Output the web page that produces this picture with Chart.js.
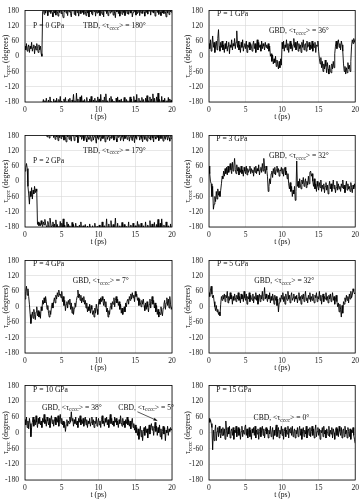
<!DOCTYPE html>
<html>
<head>
<meta charset="utf-8">
<script src="https://cdn.jsdelivr.net/npm/chart.js@4.4.1/dist/chart.umd.min.js"></script>
<style>
  body { margin: 0; background: #fff; width: 362px; height: 500px; position: relative; overflow: hidden; }
  canvas { position: absolute; }
</style>
</head>
<body>
<script>
// sampling step of the trajectories (ps)
var step = 0.1;

// torsion angle tau_cccc (degrees), one value every 0.1 ps from 0 to 20 ps
var p0 = [
  40, 25, 50, 20, 35, 45, 15, 40, 30, 55, 20, 35, 45, 10, 40, 25, 50, 30, 15, 45,
  25, 40, 10, 0, 175, -170, 165, -175, 170, -165, 178, 160, -172, 175, -160, 168, -178, 172, 155, -168,
  170, -175, 162, -165, 177, 158, -170, 172, -158, 168, -176, 165, 152, -168, 175, -162, 170, -178, 160, -170,
  175, -165, 168, 155, -172, 178, -150, 165, -175, 160, -145, 172, -168, 158, 176, -160, 168, -155, 172, -175,
  165, -170, 178, 160, -162, 170, -178, 155, -168, 175, -158, 168, 162, -172, 176, -165, 158, -175, 170, -160,
  172, -168, 160, -150, 175, 165, -172, 155, -160, 178, -148, 168, -175, 160, 172, -165, 170, -158, 175, -170,
  162, -176, 170, 152, -165, 175, -160, 168, -172, 158, 176, -168, 165, -178, 172, -162, 160, 175, -170, 168,
  -175, 165, 178, -160, 170, -168, 155, 172, -158, 176, -172, 162, -150, 168, 175, -165, 160, -175, 170, -162,
  168, -170, 175, 158, -165, 172, -155, 166, -175, 178, -160, 162, -168, 174, -148, 170, -165, 158, 176, -160,
  172, -145, 165, -170, 175, 160, -158, 170, -172, 168, -165, 176, 155, -175, 170, -162, 164, -168, 175, -172,
  170
];
var p1 = [
  50, 30, 65, 20, 45, 80, 35, 55, 15, 40, 60, 25, 70, 105, 40, 20, 55, 35, 60, 25,
  45, 15, 50, 30, 60, 20, 40, 55, 10, 45, 35, 65, 25, 50, 40, 70, 30, 55, 100, 35,
  60, 25, 45, 15, 55, 35, 65, 20, 40, 50, 30, 60, 15, 45, 35, 55, 25, 50, 40, 20,
  45, 60, 30, 50, 15, 40, 65, 25, 55, 35, 45, 20, 60, 30, 50, 40, 25, 55, 35, 45,
  30, 50, 20, 40, 0, 10, -20, 5, -30, -10, -25, 0, -40, -15, -30, -50, -20, -45, -10, -35,
  55, 30, 60, 20, 45, 35, 65, 25, 50, 15, 40, 60, 30, 50, 20, 45, 70, 35, 55, 25,
  40, 60, 20, 50, 30, 45, 15, 55, 35, 65, 25, 45, 50, 20, 60, 35, 40, 55, 25, 45,
  30, 60, 20, 50, 35, 55, 15, 45, 40, 60, 20, -10, -30, -5, -45, -20, -60, -30, -50, -15,
  -40, -65, -25, -50, -70, -35, -55, -65, -30, -50, -20, -45, 10, 40, 60, 30, 55, 65, 35, 50,
  25, 60, 45, 20, -30, -60, -40, -70, -45, -65, -25, -50, -35, -60, -20, 40, 65, 50, 70, 55,
  65
];
var p2 = [
  40, 55, 70, 50, -20, -50, -90, -40, -60, -25, -70, -35, -50, -20, -45, -30, -40, -170, -160, -175,
  -165, -175, -155, -170, -178, -160, -172, -150, -168, -176, 175, -158, -170, 170, -145, -165, 178, -175, -160, 172,
  -168, 165, -152, 175, -170, 160, -178, 172, -158, 168, -165, 176, -148, 162, -172, 170, 155, -160, 175, -168,
  165, -175, 172, 158, -162, 178, -170, 160, 170, -165, 175, -178, 152, 168, -172, 176, -160, 165, 172, -175,
  160, 175, -170, 168, 155, -176, 172, 165, -168, 178, 158, 170, -175, 162, 176, -165, 168, 150, -178, 172,
  165, -172, 175, 158, 170, -160, 168, 178, -175, 155, 172, -148, 165, 176, -168, 160, 172, -155, 168, 175,
  -170, 162, 176, -145, 168, 155, -165, 172, 178, -175, 160, 170, -162, 175, 158, -170, 168, 176, -178, 165,
  172, -160, 158, 175, -172, 168, 160, -165, 176, 152, -175, 170, 165, -158, 178, -170, 162, 172, -165, 168,
  155, -175, 176, 165, -160, 170, 158, -172, 175, 168, -155, 162, 178, -168, 170, 155, -162, 175, 166, -170,
  172, -150, 160, 176, -165, 168, -148, 174, 158, -172, 170, 165, -160, 176, 162, -175, 170, 158, -168, 172,
  165
];
var p3 = [
  60, 30, 0, -10, -60, -20, -110, -90, -60, -80, -40, -70, -30, -55, -40, -60, -35, -10, 20, 10,
  40, 20, 50, 30, 55, 25, 60, 35, 50, 70, 45, 30, 75, 40, 60, 90, 45, 30, 65, 40,
  55, 25, 50, 35, 60, 30, 45, 20, 55, 40, 30, 60, 25, 50, 35, 45, 60, 30, 50, 35,
  45, 20, 55, 35, 60, 30, 50, 40, 65, 25, 45, 55, 35, 70, 40, 90, 50, 30, 60, 45,
  20, -40, -20, 10, -10, 30, 40, 15, 50, 30, 55, 25, 45, 60, 35, 50, 20, 45, 40, 55,
  30, 50, 20, 45, 55, 25, 40, 10, 30, -10, -30, -5, -40, -20, -60, -35, -50, -20, -75, -40,
  80, -20, 0, -25, 10, -15, -30, 5, -10, 15, -20, -5, 10, -25, 0, -15, 20, -10, 35, 40,
  20, 30, 0, -20, 10, -30, -10, -40, 0, -20, -35, -5, -25, 5, -40, -15, -30, -10, -45, -20,
  -5, -35, -15, -50, -20, 0, -30, -10, -40, -20, 5, -30, -15, -45, -25, 0, -35, -10, -30, -20,
  -40, -10, -25, 5, -30, -15, -45, -20, 0, -35, -10, -30, -20, -40, -5, -25, -45, -15, -30, -10,
  -25
];
var p4 = [
  30, 60, 80, 45, 70, 40, 10, -30, -65, -40, -20, -45, -10, -30, -50, -20, 0, -35, -15, -40,
  -20, -45, 0, -15, 25, 10, 35, 15, 40, 20, -10, 5, -25, -40, -15, -30, 0, 15, -5, 20,
  35, 15, 45, 30, 55, 40, 65, 45, 50, 35, 60, 20, 40, 5, 25, -15, 10, 20, -5, 25,
  10, 30, -10, 15, -25, 0, -30, -5, 15, 0, 25, 40, 65, 35, 50, 25, 45, 15, 35, 20,
  40, 10, 25, -5, 15, -20, 0, -15, 10, -25, 5, -10, -30, -15, -40, -5, -25, 10, -10, -30,
  15, 30, 10, 35, 20, 40, 25, 5, 30, 0, 20, -20, -5, -40, -15, -30, 0, 15, -10, 20,
  10, 35, 0, 25, 40, 15, 30, 5, 20, -10, 10, -25, -5, -30, -15, 0, -20, 15, 0, 25,
  30, 10, 40, 25, 50, 30, 55, 35, 45, 20, 60, 40, 50, 25, 35, 5, 30, 15, 0, 25,
  10, 30, 5, -15, 15, -10, 20, 0, -20, 10, 30, -5, 20, 40, 10, 25, -5, 15, -20, 5,
  -30, -10, -40, -20, -30, 0, -20, -35, -5, 10, 25, -10, 15, 35, 5, 30, -5, 40, 10, -10,
  0
];
var p5 = [
  55, 40, 65, 80, 50, 35, 45, 20, 0, -15, 5, -20, -10, -30, -20, -35, 10, 40, 25, 45,
  30, 50, 20, 45, 35, 60, 15, 40, 25, 55, 30, 45, 10, 40, 25, 50, 35, 20, 45, 30,
  55, 25, 40, 15, 50, 30, 45, 20, 60, 35, 25, 50, 10, 40, 30, 55, 20, 45, 35, 25,
  50, 15, 40, 30, 55, 25, 45, 10, 35, 50, 20, 45, 30, 60, 25, 40, 75, 30, 50, 35,
  20, 45, 30, 55, 15, 40, 25, 50, 35, 10, 45, 25, 40, 5, 30, -20, 15, 35, 20, 45,
  30, 55, 20, 40, 10, 50, 35, 25, 60, 30, 45, 15, 40, 55, 25, 35, 50, 20, 40, 30,
  45, 15, 35, 55, 25, 40, 10, 45, 30, 50, 20, 40, 60, 25, 35, 15, 45, 30, 55, 20,
  40, 25, 50, 30, 15, 45, 35, 55, 20, 40, 30, 60, 25, 45, 10, 35, 50, 20, 40, 30,
  55, 25, 40, 15, 45, 30, 50, 20, 35, 55, 25, 40, 10, 30, 45, 20, 0, 15, -20, 10,
  -10, -40, 5, -25, 20, 10, 35, 20, 45, 25, 40, 15, 50, 30, 60, 35, 45, 70, 60, 50,
  55
];
var p10 = [
  50, 30, 60, 20, 45, 15, 55, 35, -15, 20, 40, 60, 25, 50, 30, 65, 40, 20, 55, 35,
  60, 30, 45, 20, 55, 40, 70, 35, 50, 25, 60, 45, 30, 55, 20, 45, 65, 35, 50, 25,
  45, 60, 30, 55, 40, 65, 25, 50, 70, 35, 55, 30, 45, 20, 40, 5, 30, 50, 25, 45,
  35, 60, 40, 80, 45, 55, 25, 50, 35, 60, 30, 45, 20, 55, 40, 65, 30, 50, 35, 55,
  25, 45, 60, 30, 50, 20, 45, 35, 55, 25, 40, 60, 30, 50, 20, 45, 35, 60, 25, 40,
  55, 30, 45, 20, 50, 65, 35, 45, 25, 55, 40, 60, 30, 50, 20, 45, 70, 35, 55, 30,
  45, 25, 60, 40, 55, 30, 45, 20, 50, 35, 65, 40, 25, 55, 30, 45, 20, 50, 35, 60,
  30, 50, 25, 45, 15, 40, 55, 20, 35, 10, 30, 0, 20, -10, 15, -25, 5, 25, -15, 10,
  -30, 5, 20, -10, 25, 0, 15, -20, 10, 30, -5, 20, 35, 10, 25, -10, 15, 40, 5, 25,
  -10, 20, 0, 30, -15, 15, -25, 5, 25, -5, 20, -30, 10, 0, 25, -10, 15, 5, 20, 10,
  15
];
var p15 = [
  55, 40, 50, 35, 20, -65, 10, -30, 5, 30, -30, 5, 20, -15, 25, 0, -20, 15, -10, 20,
  -10, 15, -25, 45, 10, -15, 20, -5, 25, -20, 5, 15, -10, 20, -25, 10, 0, 25, -15, 5,
  20, -10, 15, -25, 5, 25, -15, 10, -5, 20, 30, -10, 15, -20, 0, 20, -15, 10, -25, 15,
  0, 20, -10, 25, -20, 10, -5, 15, -25, 5, 20, -15, 10, 25, -10, 15, -20, 5, 20, -5,
  15, -20, 10, -5, 25, -15, 0, 20, -25, 10, -10, 15, 30, -15, 5, 20, -20, 10, -5, 25,
  -10, 15, -25, 5, 20, -15, 10, -5, 25, -20, 15, 0, 20, -10, 25, -15, 5, 15, -20, 10,
  -5, 20, -15, 10, 25, -10, 15, -25, 5, 20, -15, 10, -5, 25, -20, 10, 15, -10, 20, -15,
  5, 25, -10, 15, -20, 10, 30, -15, 5, 20, -10, 15, -25, 10, 0, 20, -15, 25, -5, 10,
  -20, 15, 5, -10, 25, -15, 10, -5, 20, -20, 15, 0, -25, 10, 20, -10, 15, -15, 25, 5,
  -10, 20, -20, 10, 15, -15, 25, -5, 10, -20, 20, 5, -15, 15, -25, 10, 0, 20, -10, -25,
  -40
];

var xTicks = [0, 5, 10, 15, 20];
var yTicks = [-180, -120, -60, 0, 60, 120, 180];

var pressures = ['P = 0 GPa', 'P = 1 GPa', 'P = 2 GPa', 'P = 3 GPa',
                 'P = 4 GPa', 'P = 5 GPa', 'P = 10 GPa', 'P = 15 GPa'];
var series = [p0, p1, p2, p3, p4, p5, p10, p15];
// time (ps) where the angle flips over to the +-180 band, null if it never does
var wrapAt = [2.4, null, 1.7, null, null, null, null, null];
// text notes: [t, angle, text]; |...| marks the subscript
var notes = [
  [[1.1, 118, pressures[0]], [7.9, 118, 'TBD, <τ|cccc|> = 180°']],
  [[1.1, 167, pressures[1]], [8.2, 99, 'GBD, <τ|cccc|> = 36°']],
  [[1.1, 81, pressures[2]], [7.9, 121, 'TBD, <τ|cccc|> = 179°']],
  [[1.0, 165, pressures[3]], [8.2, 99, 'GBD, <τ|cccc|> = 32°']],
  [[1.1, 165, pressures[4]], [6.5, 99, 'GBD, <τ|cccc|> = 7°']],
  [[1.1, 165, pressures[5]], [6.2, 99, 'GBD, <τ|cccc|> = 32°']],
  [[1.1, 163, pressures[6]], [2.3, 96, 'GBD, <τ|cccc|> = 38°'], [12.7, 96, 'CBD, <τ|cccc|> = 5°']],
  [[1.0, 163, pressures[7]], [6.1, 55, 'CBD, <τ|cccc|> = 0°']]
];
// arrow in the 10 GPa panel: from [t, angle] to [t, angle]
var arrow10 = [[15.3, 80], [18.0, 46]];

var serif = '"Liberation Serif", "Times New Roman", serif';

function richText(ctx, x, y, str, size) {
  var parts = str.split('|');
  for (var k = 0; k < parts.length; k++) {
    var sub = k % 2 == 1;
    ctx.font = (sub ? size * 0.72 : size) + 'px ' + serif;
    ctx.fillText(parts[k], x, y + (sub ? size * 0.3 : 0));
    x += ctx.measureText(parts[k]).width;
  }
}
function richWidth(ctx, str, size) {
  var parts = str.split('|'), w = 0;
  for (var k = 0; k < parts.length; k++) {
    ctx.font = (k % 2 == 1 ? size * 0.72 : size) + 'px ' + serif;
    w += ctx.measureText(parts[k]).width;
  }
  return w;
}

var framePlugin = {
  id: 'frame',
  afterDraw: function(chart) {
    var ctx = chart.ctx, a = chart.chartArea;
    var xs = chart.scales.x, ys = chart.scales.y;
    var idx = chart.options.plugins.frame.idx;
    ctx.save();
    ctx.strokeStyle = '#000';
    ctx.lineWidth = 0.8;
    ctx.strokeRect(a.left, a.top, a.right - a.left, a.bottom - a.top);

    ctx.fillStyle = '#111';
    ctx.textBaseline = 'middle';
    ctx.textAlign = 'left';
    notes[idx].forEach(function(n) {
      richText(ctx, xs.getPixelForValue(n[0]), ys.getPixelForValue(n[1]), n[2], 7.6);
    });

    if (idx == 6) {
      var x1 = xs.getPixelForValue(arrow10[0][0]), y1 = ys.getPixelForValue(arrow10[0][1]);
      var x2 = xs.getPixelForValue(arrow10[1][0]), y2 = ys.getPixelForValue(arrow10[1][1]);
      var ang = Math.atan2(y2 - y1, x2 - x1);
      ctx.strokeStyle = '#111';
      ctx.lineWidth = 0.7;
      ctx.beginPath(); ctx.moveTo(x1, y1); ctx.lineTo(x2, y2); ctx.stroke();
      ctx.beginPath();
      ctx.moveTo(x2, y2);
      ctx.lineTo(x2 - 4 * Math.cos(ang - 0.4), y2 - 4 * Math.sin(ang - 0.4));
      ctx.lineTo(x2 - 4 * Math.cos(ang + 0.4), y2 - 4 * Math.sin(ang + 0.4));
      ctx.closePath(); ctx.fill();
    }

    // axis titles
    ctx.textAlign = 'center';
    ctx.font = '7.6px ' + serif;
    ctx.fillText('t (ps)', (a.left + a.right) / 2, a.bottom + 15);

    var title = 'τ|cccc| (degrees)';
    var w = richWidth(ctx, title, 7.6);
    ctx.translate(chart.options.plugins.frame.ytx, (a.top + a.bottom) / 2);
    ctx.rotate(-Math.PI / 2);
    ctx.textAlign = 'left';
    richText(ctx, -w / 2, 0, title, 7.6);
    ctx.restore();
  }
};

// pixel layout of the 4x2 grid
var colLeft = [0, 181], yAxisW = [25, 28], padRight = [9, 5], yTitleX = [6, 7];
var rowTop = [0, 125, 250, 375], padTop = [4, 5, 6, 6], plotH = [98, 97, 97, 99];

for (var i = 0; i < 8; i++) {
  var col = i % 2, row = Math.floor(i / 2);
  var cv = document.createElement('canvas');
  cv.width = 181; cv.height = 125;
  cv.style.left = colLeft[col] + 'px';
  cv.style.top = rowTop[row] + 'px';
  document.body.appendChild(cv);

  var vals = series[i];
  var datasets = [];
  var lineStyle = { borderColor: '#000', borderWidth: 0.9, pointRadius: 0, tension: 0, fill: false, spanGaps: false };
  if (wrapAt[i] === null) {
    datasets.push(Object.assign({ data: vals.map(function(v, k) { return { x: k * step, y: v }; }) }, lineStyle));
  } else {
    var k0 = Math.round(wrapAt[i] / step);
    // before the flip: plain trace, ending on the first wrapped sample
    datasets.push(Object.assign({ data: vals.map(function(v, k) { return { x: k * step, y: k <= k0 ? v : null }; }) }, lineStyle));
    // upper band, negative angles pushed above +180 (clipped)
    datasets.push(Object.assign({ data: vals.map(function(v, k) { return { x: k * step, y: k < k0 ? null : (v < 0 ? v + 360 : v) }; }) }, lineStyle));
    // lower band, positive angles pushed below -180 (clipped)
    datasets.push(Object.assign({ data: vals.map(function(v, k) { return { x: k * step, y: k < k0 ? null : (v > 0 ? v - 360 : v) }; }) }, lineStyle));
  }

  var xH = 125 - padTop[row] - plotH[row];
  new Chart(cv.getContext('2d'), {
    type: 'line',
    data: { datasets: datasets },
    plugins: [framePlugin],
    options: {
      responsive: false,
      animation: false,
      devicePixelRatio: 1,
      layout: { padding: { left: 0, right: padRight[col], top: padTop[row], bottom: 0 } },
      plugins: {
        legend: { display: false },
        tooltip: { enabled: false },
        frame: { idx: i, ytx: yTitleX[col] }
      },
      scales: {
        x: {
          type: 'linear', min: 0, max: 20,
          afterBuildTicks: function(s) { s.ticks = xTicks.map(function(v) { return { value: v }; }); },
          ticks: { font: { family: serif, size: 7.6 }, color: '#222', padding: 3, maxRotation: 0 },
          grid: { color: '#d6d6d6', lineWidth: 0.6, drawTicks: false },
          border: { display: false },
          afterFit: (function(h) { return function(s) { s.height = h; }; })(xH)
        },
        y: {
          min: -180, max: 180,
          afterBuildTicks: function(s) { s.ticks = yTicks.map(function(v) { return { value: v }; }); },
          ticks: { font: { family: serif, size: 7.6 }, color: '#222', padding: 6 },
          grid: { color: '#d6d6d6', lineWidth: 0.6, drawTicks: false },
          border: { display: false },
          afterFit: (function(w) { return function(s) { s.width = w; }; })(yAxisW[col])
        }
      }
    }
  });
}
</script>
</body>
</html>
